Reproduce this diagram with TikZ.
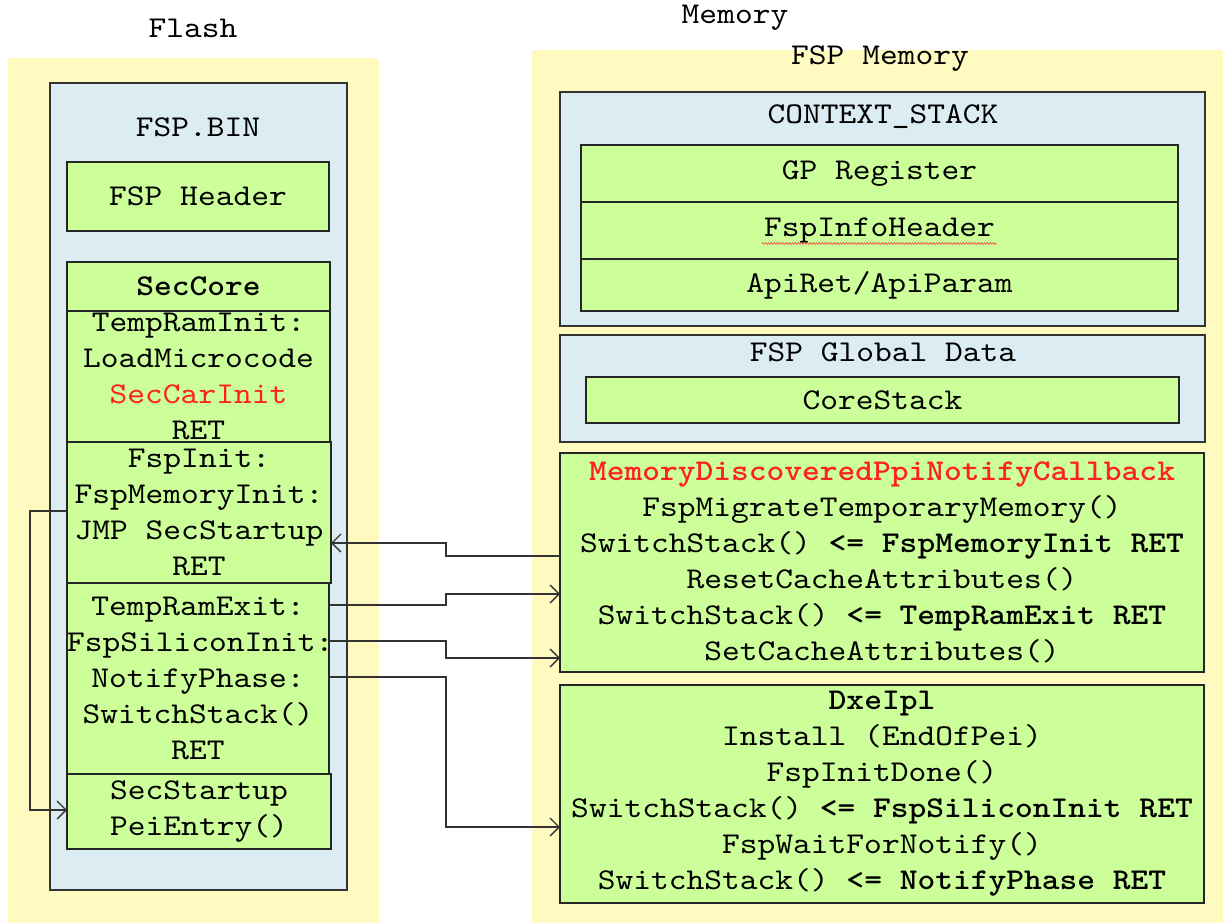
\documentclass[tikz,border=0pt]{standalone}
\usepackage{fontspec}
\setmainfont{lmmono10-regular.otf}[BoldFont=lmmonolt10-bold.otf, FakeStretch=1.12]
\usetikzlibrary{arrows.meta,calc,positioning,decorations.pathmorphing}
\definecolor{areabg}{RGB}{255,251,192}
\definecolor{regionbg}{RGB}{219,236,243}
\definecolor{codebg}{RGB}{204,255,153}
\definecolor{callred}{RGB}{255,32,32}

\begin{document}
\begin{tikzpicture}[x=1pt,y=-1pt,font=\fontsize{30.2}{36}\selectfont]
\tikzstyle{area}=[fill=areabg,anchor=north west,inner sep=0,outer sep=0]
\tikzstyle{region}=[fill=regionbg,draw=black!80,line width=1.5pt,anchor=north west,inner sep=0,outer sep=0]
\tikzstyle{block}=[fill=codebg,draw=black!85,line width=1.5pt,anchor=north west,align=center,inner sep=0,outer sep=0]
\tikzstyle{call}=[draw=black!80,line width=1.3pt,-{Straight Barb[length=9pt,width=18pt]}]

\useasboundingbox (0,0) rectangle (1223,923);

% Flash side
\node (flashlbl) at (193,28) {Flash};
\node[area, minimum width=371pt, minimum height=865pt] (flash) at (8,58) {};
\node[region, minimum width=297pt, minimum height=807pt] (fspbin) at (50,83) {};
\node (fspbinlbl) at (198,127) {FSP.BIN};

\node[block, minimum width=262pt, minimum height=69pt] (header) at (67,162) {FSP Header};
\node[block, minimum width=263pt, minimum height=49pt] (seccore) at (67,262) {\bfseries SecCore};
\node[block, minimum width=263pt, minimum height=131pt] (tempinit) at (67,311)
  {TempRamInit:\\LoadMicrocode\\\textcolor{callred}{SecCarInit}\\RET};
\node[block, minimum width=264pt, minimum height=141pt] (fspinit) at (67,442)
  {FspInit:\\FspMemoryInit:\\JMP SecStartup\\RET};
\node[block, text width=262pt, minimum height=191pt] (exitblk) at (67,583)
  {TempRamExit:\\FspSiliconInit:\\NotifyPhase:\\SwitchStack()\\RET};
\node[block, minimum width=264pt, minimum height=75pt] (secstart) at (67,774)
  {SecStartup\\PeiEntry()};

% Memory side
\node (memlbl) at (735,18) {Memory};
\node[area, minimum width=691pt, minimum height=873pt] (memory) at (532,50) {};
\node (fspmemlbl) at (880,59) {FSP Memory};

\node[region, minimum width=645pt, minimum height=234pt] (ctxstack) at (560,92) {};
\node (ctxlbl) at (883,117) {CONTEXT\_STACK};
\node[block, minimum width=597pt, minimum height=57pt] (gpreg) at (581,145) {GP Register};
\node[block, minimum width=597pt, minimum height=57pt] (infohdr) at (581,202) {FspInfoHeader};
\node[block, minimum width=597pt, minimum height=52pt] (apiret) at (581,259) {ApiRet/ApiParam};
\draw[red!75, line width=0.6pt, decorate, decoration={snake,amplitude=0.9pt,segment length=3pt}]
  ($(infohdr.center)+(-118,13)$) -- ++(235,0);

\node[region, minimum width=645pt, minimum height=107pt] (globdata) at (560,335) {};
\node (globlbl) at (883,352) {FSP Global Data};
\node[block, minimum width=593pt, minimum height=46pt] (corestack) at (586,377) {CoreStack};

\node[block, minimum width=644pt, minimum height=219pt] (memcb) at (560,453)
  {\textcolor{callred}{\bfseries MemoryDiscoveredPpiNotifyCallback}\\
   FspMigrateTemporaryMemory()\\
   SwitchStack() \textbf{<= FspMemoryInit RET}\\
   ResetCacheAttributes()\\
   SwitchStack() \textbf{<= TempRamExit RET}\\
   SetCacheAttributes()};
\node[block, minimum width=644pt, minimum height=218pt] (dxeipl) at (560,685)
  {\bfseries DxeIpl\\
   Install (EndOfPei)\\
   FspInitDone()\\
   SwitchStack() \textbf{<= FspSiliconInit RET}\\
   FspWaitForNotify()\\
   SwitchStack() \textbf{<= NotifyPhase RET}};

% calls and returns
\draw[call] (fspinit.west |- 0,511) -- (30,511) -- (30,810) -- (secstart.west |- 0,810);
\draw[call] (memcb.west |- 0,556) -- (446,556) -- (446,543) -- (fspinit.east |- 0,543);
\draw[call] (exitblk.east |- 0,605) -- (446,605) -- (446,594) -- (memcb.west |- 0,594);
\draw[call] (exitblk.east |- 0,641) -- (446,641) -- (446,658) -- (memcb.west |- 0,658);
\draw[call] (exitblk.east |- 0,677) -- (446,677) -- (446,827) -- (dxeipl.west |- 0,827);
\end{tikzpicture}
\end{document}
